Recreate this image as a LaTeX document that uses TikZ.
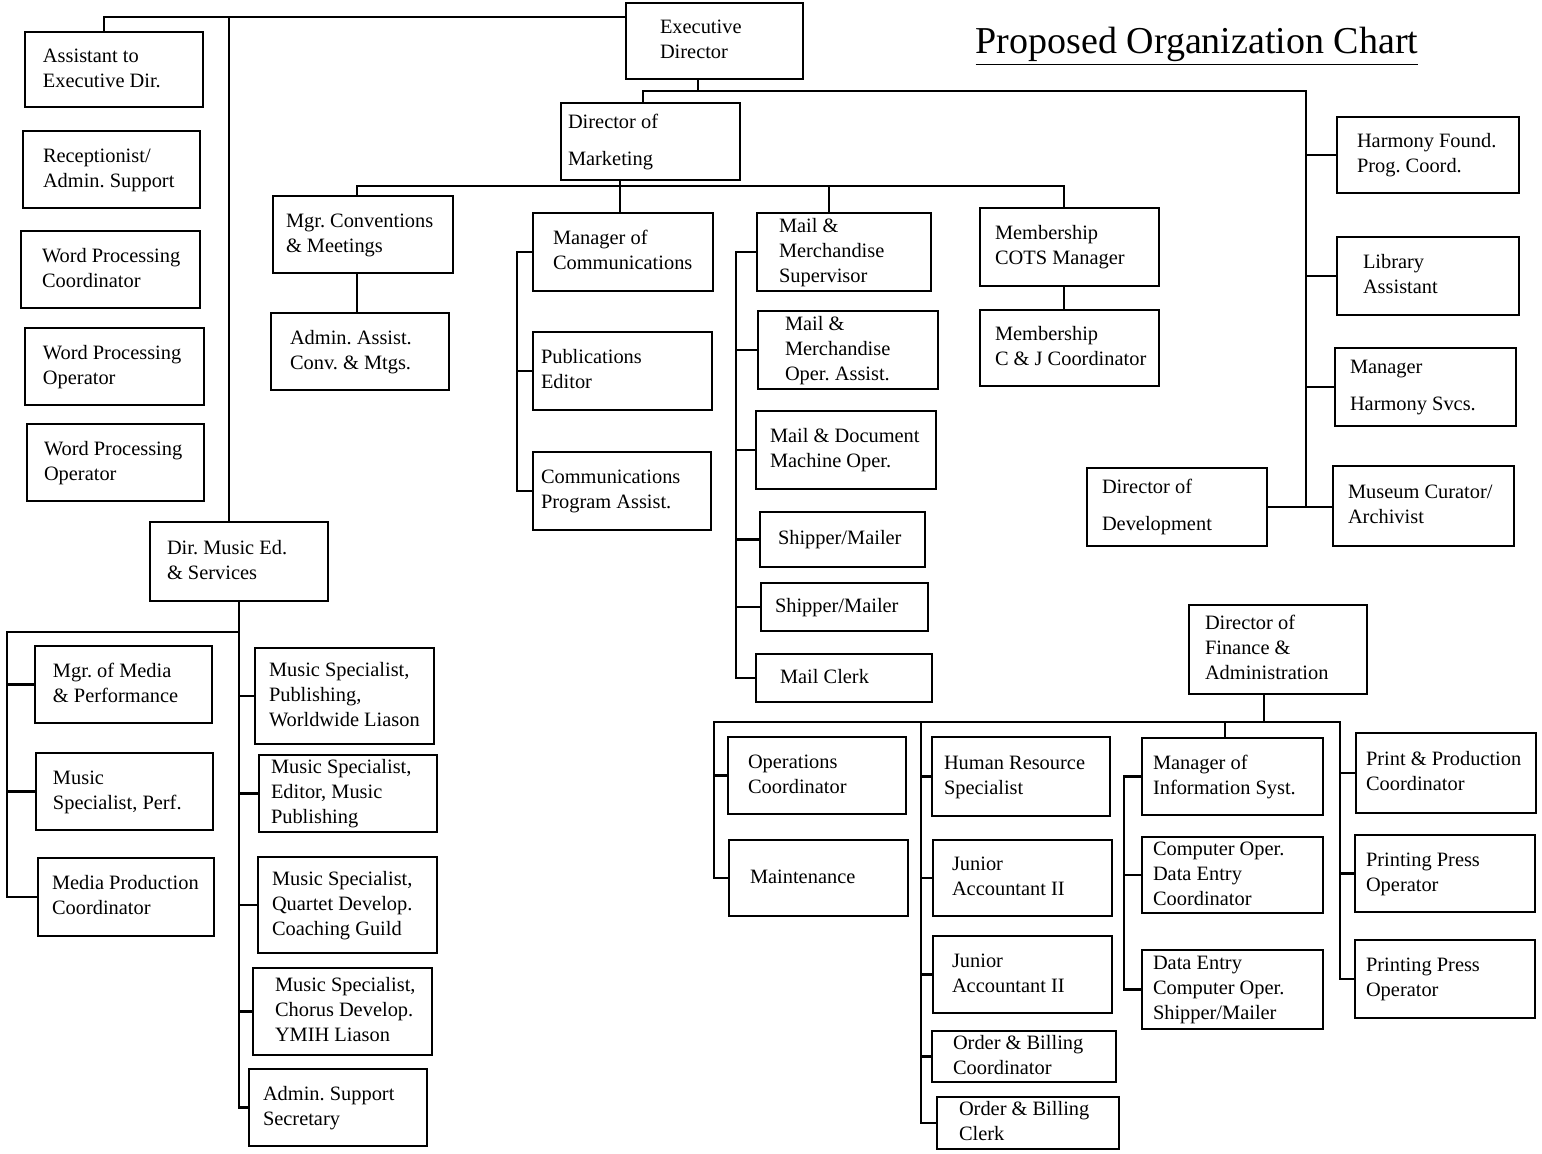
\documentclass[tikz,border=0pt]{standalone}
\usepackage{fontspec}
\setmainfont{Liberation Serif}
\usepackage{tikz}

\tikzset{
  post/.style={draw, line width=1.3pt, inner xsep=0pt, inner ysep=0pt,
    font=\fontsize{10.2}{12.5}\selectfont\frenchspacing},
  wire/.style={line width=1.3pt},
}

% box from (x1,y1) to (x2,y2) in picture pixels, text inset #1
\newcommand\orgpost[7][16]{%
  \pgfmathsetmacro\postw{(#5-#3)*0.5}%
  \pgfmathsetmacro\posth{(#6-#4)*0.5}%
  \pgfmathsetmacro\postx{#1*0.5}%
  \node[post, minimum width=\postw pt, minimum height=\posth pt]
    (#2) at ({(#3+#5)/2},{-(#4+#6)/2})
    {\makebox[\postw pt][l]{\begin{tabular}{@{\hspace{\postx pt}}l@{}}#7\end{tabular}}};}

\begin{document}
\begin{tikzpicture}[x=0.5pt, y=0.5pt]
    \useasboundingbox (0,0) rectangle (1542,-1153);

    \node[font=\fontsize{19}{22}\selectfont] (title) at (1197,-46) {\underline{Proposed Organization Chart}};

    % executive office
    \orgpost[34]{exec}{626}{3}{803}{79}{Executive\\Director}
    \orgpost[18]{asst}{25}{32}{203}{107}{Assistant to\\Executive Dir.}
    \orgpost[20]{recep}{23}{131}{200}{208}{Receptionist/\\Admin. Support}
    \orgpost[21]{wpc}{21}{231}{200}{308}{Word Processing\\Coordinator}
    \orgpost[18]{wpo1}{25}{328}{204}{405}{Word Processing\\Operator}
    \orgpost[17]{wpo2}{27}{424}{204}{501}{Word Processing\\Operator}

    % marketing
    \orgpost[7]{mkt}{561}{103}{740}{180}{Director of\\[6pt]Marketing}
    \orgpost[13]{conv}{273}{196}{453}{273}{Mgr. Conventions\\\& Meetings}
    \orgpost[19]{convasst}{271}{313}{449}{390}{Admin. Assist.\\Conv. \& Mtgs.}
    \orgpost[20]{comm}{533}{213}{713}{291}{Manager of\\Communications}
    \orgpost[8]{pub}{533}{332}{712}{410}{Publications\\Editor}
    \orgpost[8]{cpa}{533}{452}{711}{530}{Communications\\Program Assist.}
    \orgpost[22]{mms}{757}{213}{931}{291}{Mail \&\\Merchandise\\Supervisor}
    \orgpost[27]{mmo}{758}{311}{938}{389}{Mail \&\\Merchandise\\Oper. Assist.}
    \orgpost[14]{mdm}{756}{411}{936}{489}{Mail \& Document\\Machine Oper.}
    \orgpost[18]{ship1}{760}{512}{925}{567}{Shipper/Mailer}
    \orgpost[14]{ship2}{761}{583}{928}{631}{Shipper/Mailer}
    \orgpost[24]{clerk}{756}{654}{932}{702}{Mail Clerk}
    \orgpost[15]{cots}{980}{208}{1159}{286}{Membership\\COTS Manager}
    \orgpost[15]{cj}{980}{310}{1159}{386}{Membership\\C \& J Coordinator}

    % development
    \orgpost[20]{harmony}{1337}{117}{1519}{193}{Harmony Found.\\Prog. Coord.}
    \orgpost[26]{library}{1337}{237}{1519}{315}{Library\\Assistant}
    \orgpost[15]{mgrharm}{1335}{348}{1516}{426}{Manager\\[6pt]Harmony Svcs.}
    \orgpost[15]{dev}{1087}{468}{1267}{546}{Director of\\[6pt]Development}
    \orgpost[15]{museum}{1333}{466}{1514}{546}{Museum Curator/\\Archivist}

    % music education
    \orgpost[17]{music}{150}{522}{328}{601}{Dir. Music Ed.\\\& Services}
    \orgpost[18]{media}{35}{646}{212}{723}{Mgr. of Media\\\& Performance}
    \orgpost[17]{msperf}{36}{753}{213}{830}{Music\\Specialist, Perf.}
    \orgpost[14]{mpc}{38}{858}{214}{936}{Media Production\\Coordinator}
    \orgpost[14]{msp1}{255}{648}{434}{744}{Music Specialist,\\Publishing,\\Worldwide Liason}
    \orgpost[12]{msp2}{259}{755}{437}{832}{Music Specialist,\\Editor, Music\\Publishing}
    \orgpost[14]{msp3}{258}{857}{437}{953}{Music Specialist,\\Quartet Develop.\\Coaching Guild}
    \orgpost[22]{msp4}{253}{968}{432}{1055}{Music Specialist,\\Chorus Develop.\\YMIH Liason}
    \orgpost[14]{asec}{249}{1069}{427}{1146}{Admin. Support\\Secretary}

    % finance
    \orgpost[16]{fin}{1189}{605}{1367}{694}{Director of\\Finance \&\\Administration}
    \orgpost[20]{ops}{728}{737}{906}{814}{Operations\\Coordinator}
    \orgpost[21]{maint}{729}{840}{908}{916}{Maintenance}
    \orgpost[12]{hr}{932}{737}{1110}{816}{Human Resource\\Specialist}
    \orgpost[19]{ja1}{933}{840}{1112}{916}{Junior\\Accountant II}
    \orgpost[19]{ja2}{933}{936}{1112}{1013}{Junior\\Accountant II}
    \orgpost[21]{obc}{932}{1031}{1116}{1082}{Order \& Billing\\Coordinator}
    \orgpost[22]{obclerk}{937}{1097}{1119}{1149}{Order \& Billing\\Clerk}
    \orgpost[11]{mis}{1142}{738}{1323}{815}{Manager of\\Information Syst.}
    \orgpost[11]{co}{1142}{837}{1323}{913}{Computer Oper.\\Data Entry\\Coordinator}
    \orgpost[11]{de}{1142}{950}{1323}{1029}{Data Entry\\Computer Oper.\\Shipper/Mailer}
    \orgpost[10]{ppc}{1356}{733}{1536}{813}{Print \& Production\\Coordinator}
    \orgpost[11]{pp1}{1355}{835}{1535}{912}{Printing Press\\Operator}
    \orgpost[11]{pp2}{1355}{940}{1535}{1018}{Printing Press\\Operator}

    % lines from the executive director
    \coordinate (xa) at (104,-17);
    \coordinate (xm) at (229,-17);
    \draw[wire] (exec.west |- xa) -- (xa) -- (xa |- asst.north);
    \draw[wire] (xm) -- (xm |- music.north);
    \coordinate (ej) at (698,-91);
    \coordinate (el) at (643,-91);
    \coordinate (er) at (1306,-91);
    \draw[wire] (ej |- exec.south) -- (ej);
    \draw[wire] (el |- mkt.north) -- (el) -- (er) -- (er |- dev.east);
    \draw[wire] (dev.east) -- (dev.east -| museum.west);
    \foreach \n in {harmony, library, mgrharm}
        \draw[wire] (\n.west) -- (\n.west -| er);

    % marketing
    \coordinate (ml) at (357,-186);
    \coordinate (mj) at (620,-186);
    \coordinate (mm) at (829,-186);
    \coordinate (mr) at (1064,-186);
    \draw[wire] (ml |- conv.north) -- (ml) -- (mr) -- (mr |- cots.north);
    \draw[wire] (mj |- mkt.south) -- (mj) -- (mj |- comm.north);
    \draw[wire] (mm) -- (mm |- mms.north);
    \draw[wire] (ml |- conv.south) -- (ml |- convasst.north);
    \draw[wire] (mr |- cots.south) -- (mr |- cj.north);
    \coordinate (cx) at (517,0);
    \draw[wire] (comm.west) -- (comm.west -| cx) |- (cpa.west);
    \draw[wire] (pub.west) -- (pub.west -| cx);
    \coordinate (mx) at (736,0);
    \draw[wire] (mms.west) -- (mms.west -| mx) |- (clerk.west);
    \foreach \n in {mmo, mdm, ship1, ship2}
        \draw[wire] (\n.west) -- (\n.west -| mx);

    % music education
    \coordinate (ll) at (7,-632);
    \draw[wire] (music.south) -- (music.south |- asec.west) -- (asec.west);
    \draw[wire] (ll -| music.south) -- (ll) |- (mpc.west);
    \foreach \n in {media, msperf}
        \draw[wire] (\n.west) -- (\n.west -| ll);
    \foreach \n in {msp1, msp2, msp3, msp4}
        \draw[wire] (\n.west) -- (\n.west -| music.south);

    % finance
    \coordinate (fj) at (1264,-722);
    \coordinate (fl) at (714,-722);
    \coordinate (fr) at (1340,-722);
    \coordinate (hx) at (921,-722);
    \coordinate (ix) at (1225,-722);
    \coordinate (iy) at (1124,0);
    \draw[wire] (fj |- fin.south) -- (fj);
    \draw[wire] (maint.west) -| (fl) -- (fr) |- (pp2.west);
    \draw[wire] (ops.west) -- (ops.west -| fl);
    \draw[wire] (hx) |- (obclerk.west);
    \foreach \n in {hr, ja1, ja2, obc}
        \draw[wire] (\n.west) -- (\n.west -| hx);
    \draw[wire] (ix) -- (ix |- mis.north);
    \draw[wire] (mis.west) -- (mis.west -| iy) |- (de.west);
    \draw[wire] (co.west) -- (co.west -| iy);
    \foreach \n in {ppc, pp1}
        \draw[wire] (\n.west) -- (\n.west -| fr);
\end{tikzpicture}
\end{document}
